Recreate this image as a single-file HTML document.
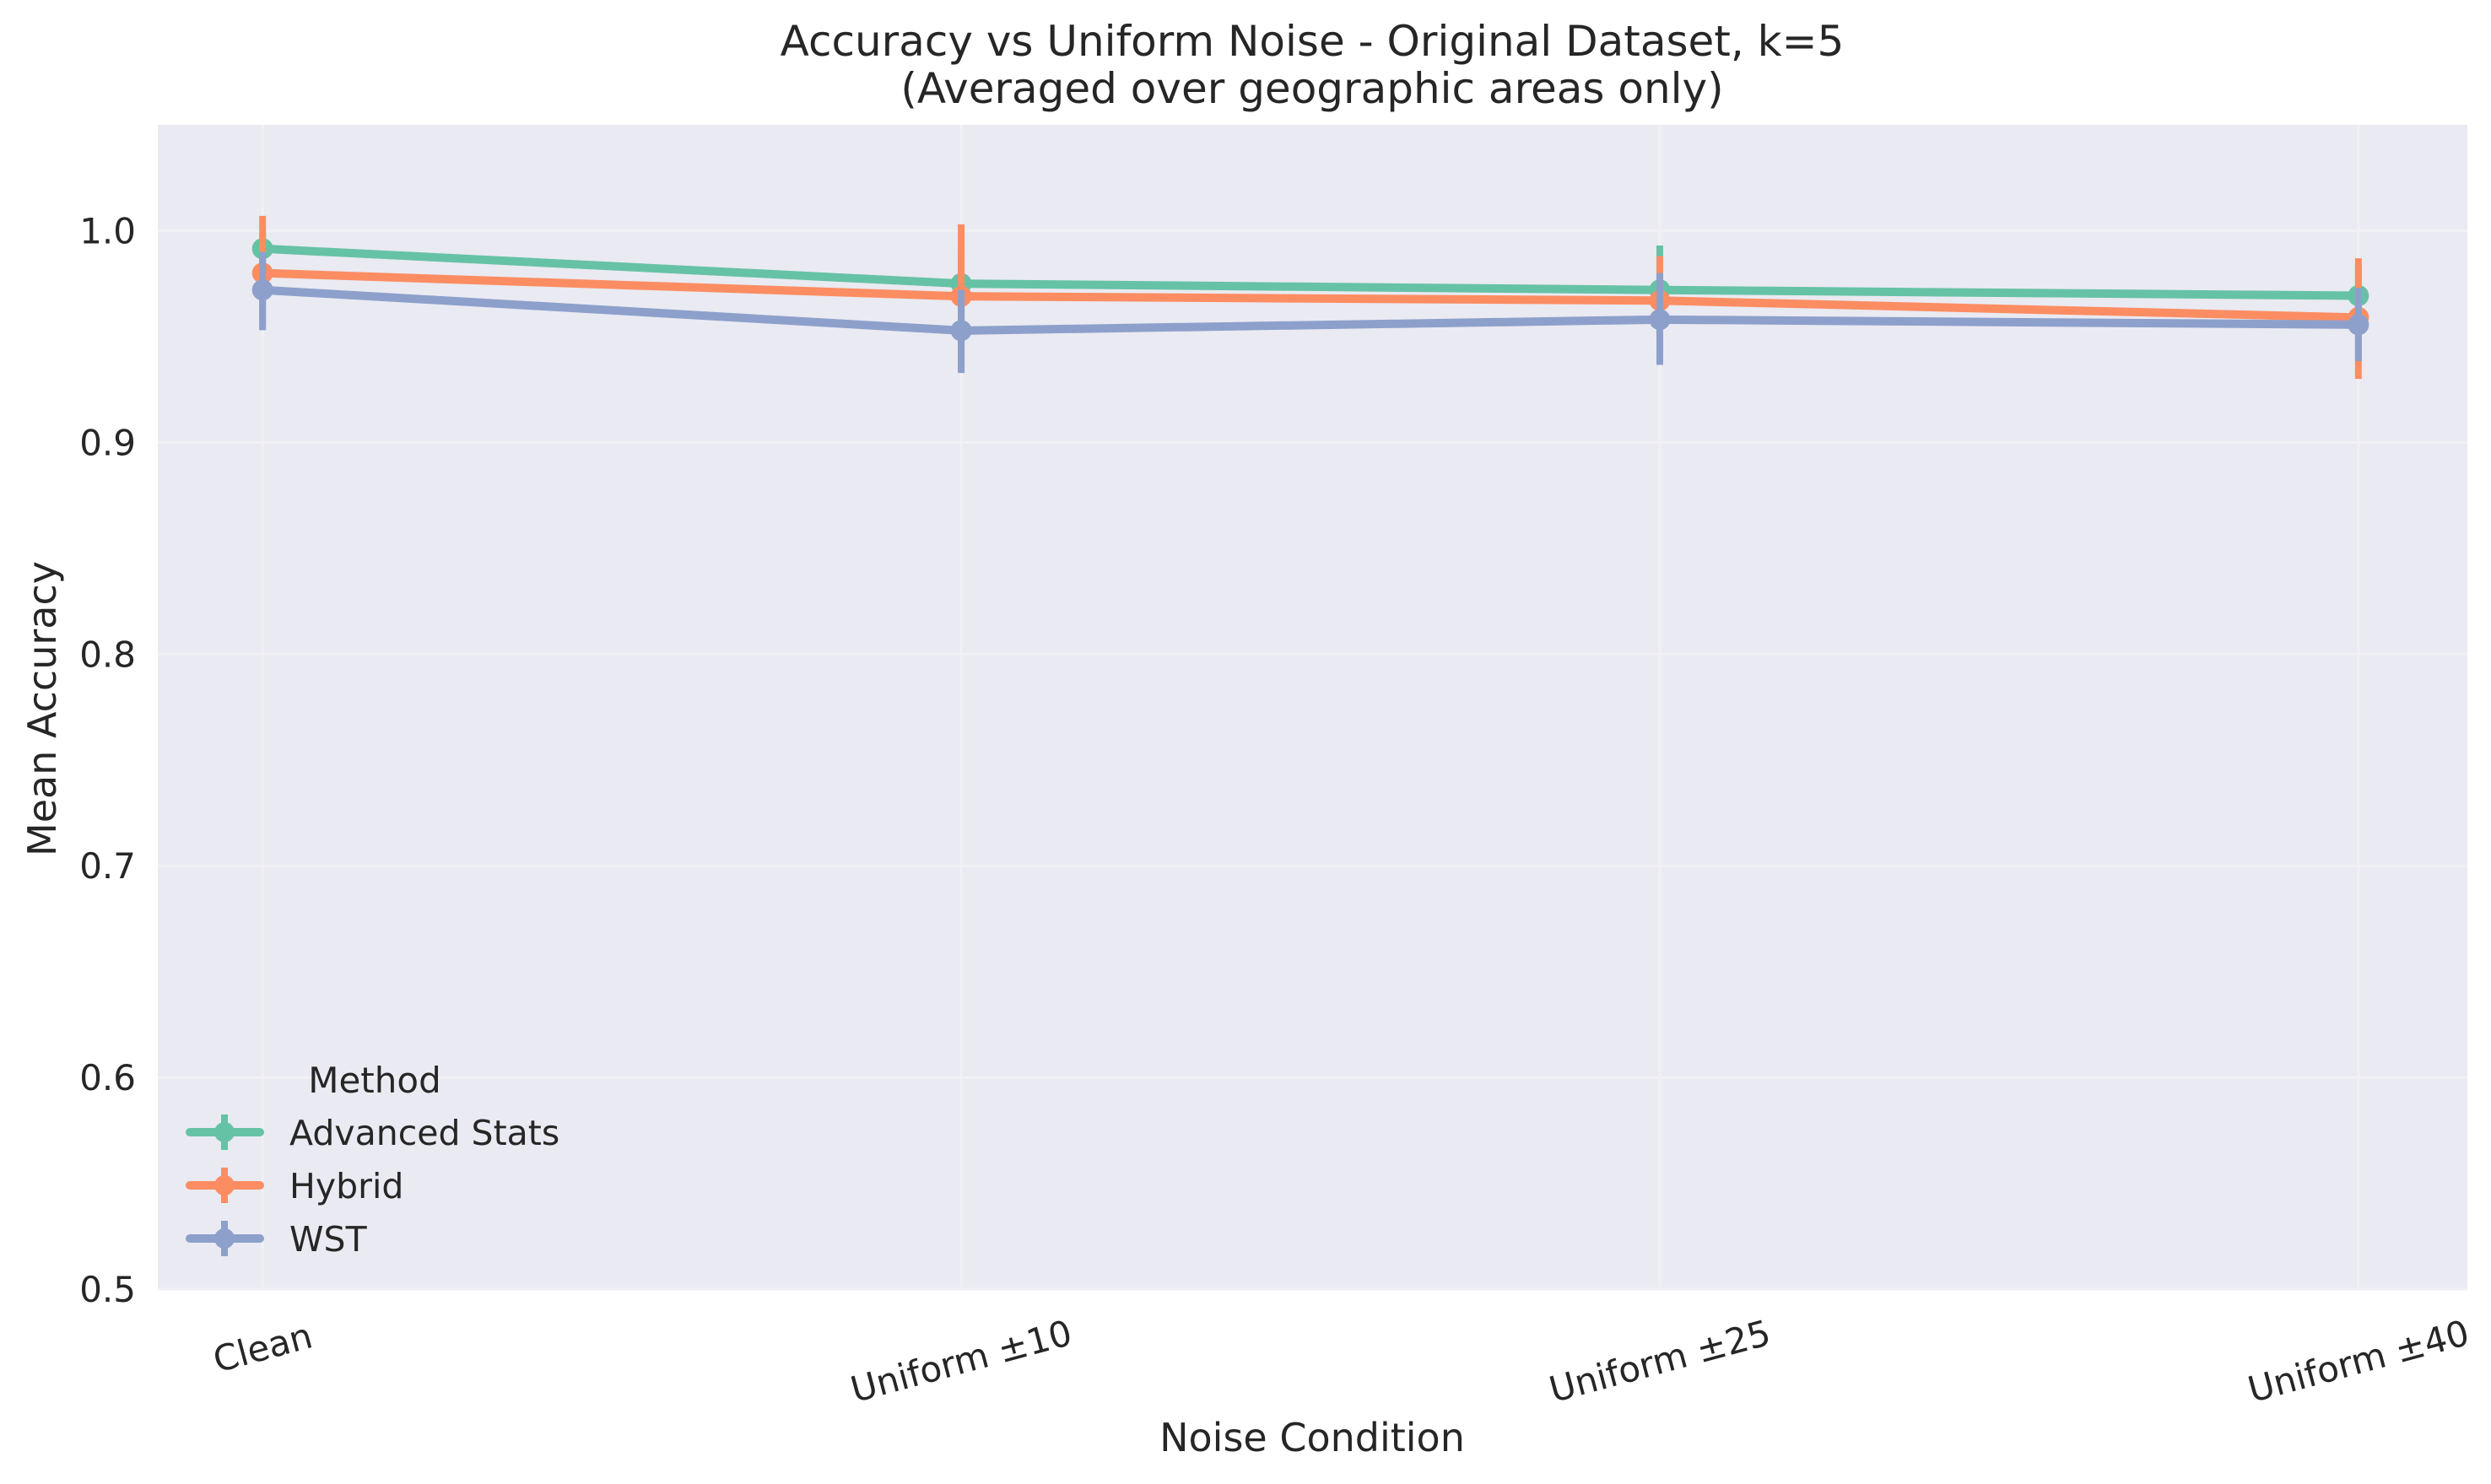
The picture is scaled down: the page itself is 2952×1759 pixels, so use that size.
<!DOCTYPE html>
<html><head><meta charset="utf-8"><style>
html,body{margin:0;padding:0;background:#fff;}
svg{display:block;font-family:"DejaVu Sans","Liberation Sans",sans-serif;}
</style></head><body>
<svg id="chart" width="2952" height="1759" viewBox="0 0 2952 1759">
<rect x="0" y="0" width="2952" height="1759" fill="#fff"/>
<rect x="187" y="148" width="2737" height="1380" fill="#eaeaf2"/>
<g id="grid"></g>
<g id="series"></g>
<g id="axes"></g>
<text x="1555" y="66" font-size="50" text-anchor="middle" fill="#262626">Accuracy vs Uniform Noise - Original Dataset, k=5</text>
<text x="1555" y="122" font-size="50" text-anchor="middle" fill="#262626">(Averaged over geographic areas only)</text>
<text x="1555" y="1720" font-size="46" text-anchor="middle" fill="#262626">Noise Condition</text>
<text transform="translate(66,840) rotate(-90)" font-size="46" text-anchor="middle" fill="#262626">Mean Accuracy</text>
<g id="legend">
<text x="444" y="1295" font-size="42" text-anchor="middle" fill="#262626">Method</text>
</g>
</svg>
<script>
const categories = ["Clean", "Uniform \u00b110", "Uniform \u00b125", "Uniform \u00b140"];
const methods = ["Advanced Stats", "Hybrid", "WST"];
const advancedStats = [0.9915, 0.975, 0.972, 0.9693];
const advancedLow = [0.984, 0.960, 0.951, 0.955];
const advancedHigh = [0.999, 0.990, 0.993, 0.984];
const hybrid = [0.980, 0.969, 0.967, 0.959];
const hybridLow = [0.955, 0.935, 0.945, 0.930];
const hybridHigh = [1.007, 1.003, 0.988, 0.987];
const wst = [0.972, 0.9528, 0.958, 0.9556];
const wstLow = [0.953, 0.9328, 0.9366, 0.9384];
const wstHigh = [0.990, 0.972, 0.980, 0.973];
const yTicks = [0.5, 0.6, 0.7, 0.8, 0.9, 1.0];
const yTickLabels = ["0.5", "0.6", "0.7", "0.8", "0.9", "1.0"];

const NS = "http://www.w3.org/2000/svg";
const L = 187, R = 2924, T = 148, B = 1528;
const xMin = -0.15, xMax = 3.156, yMin = 0.5, yMax = 1.05;
function xs(i){ return L + (i - xMin) / (xMax - xMin) * (R - L); }
function ys(v){ return B - (v - yMin) / (yMax - yMin) * (B - T); }
function mk(tag, attrs, parent){ const e = document.createElementNS(NS, tag); for (const k in attrs) e.setAttribute(k, attrs[k]); parent.appendChild(e); return e; }

const grid = document.getElementById('grid');
const axes = document.getElementById('axes');
yTicks.forEach((v, i) => {
  const g = mk('line', {x1: L, x2: R, y1: ys(v), y2: ys(v), stroke: '#f1f1f5', 'stroke-width': 3}, grid);
  
  
  const t = mk('text', {x: 161, y: ys(v) + 15, 'font-size': 42, 'text-anchor': 'end', fill: '#262626'}, axes);
  t.textContent = yTickLabels[i];
  
  
});
categories.forEach((c, i) => {
  const g = mk('line', {x1: xs(i), x2: xs(i), y1: T, y2: B, stroke: '#f1f1f5', 'stroke-width': 3}, grid);
  
  
  const cy = i === 0 ? 1597 : 1613;
  const t = mk('text', {x: xs(i), y: cy + 15, 'font-size': 42, 'text-anchor': 'middle', fill: '#262626', transform: `rotate(-15 ${xs(i)} ${cy})`}, axes);
  t.textContent = c;
  
  
});

const seriesVals = [advancedStats, hybrid, wst];
const seriesLow = [advancedLow, hybridLow, wstLow];
const seriesHigh = [advancedHigh, hybridHigh, wstHigh];
const colors = ['#66c2a5', '#fc8d62', '#8da0cb'];
const sg = document.getElementById('series');
seriesVals.forEach((vals, s) => {
  const g = mk('g', {}, sg);
  
  
  vals.forEach((v, i) => {
    const e = mk('line', {x1: xs(i), x2: xs(i), y1: ys(seriesLow[s][i]), y2: ys(seriesHigh[s][i]), stroke: colors[s], 'stroke-width': 8}, g);
    
    
  });
  const pts = vals.map((v, i) => xs(i) + ',' + ys(v)).join(' ');
  const pl = mk('polyline', {points: pts, fill: 'none', stroke: colors[s], 'stroke-width': 10, 'stroke-linejoin': 'round'}, g);
  
  
  vals.forEach((v, i) => {
    const c = mk('circle', {cx: xs(i), cy: ys(v), r: 12.5, fill: colors[s]}, g);
    
    
  });
});

const leg = document.getElementById('legend');
methods.forEach((m, s) => {
  const y = 1342 + s * 63;
  const g = mk('g', {}, leg);
  
  
  mk('line', {x1: 225, x2: 308, y1: y, y2: y, stroke: colors[s], 'stroke-width': 10, 'stroke-linecap': 'round'}, g);
  mk('line', {x1: 266, x2: 266, y1: y - 21, y2: y + 21, stroke: colors[s], 'stroke-width': 8}, g);
  mk('circle', {cx: 266, cy: y, r: 12, fill: colors[s]}, g);
  const t = mk('text', {x: 343, y: y + 15, 'font-size': 41, fill: '#262626'}, g);
  t.textContent = m;
});
</script>
</body></html>
